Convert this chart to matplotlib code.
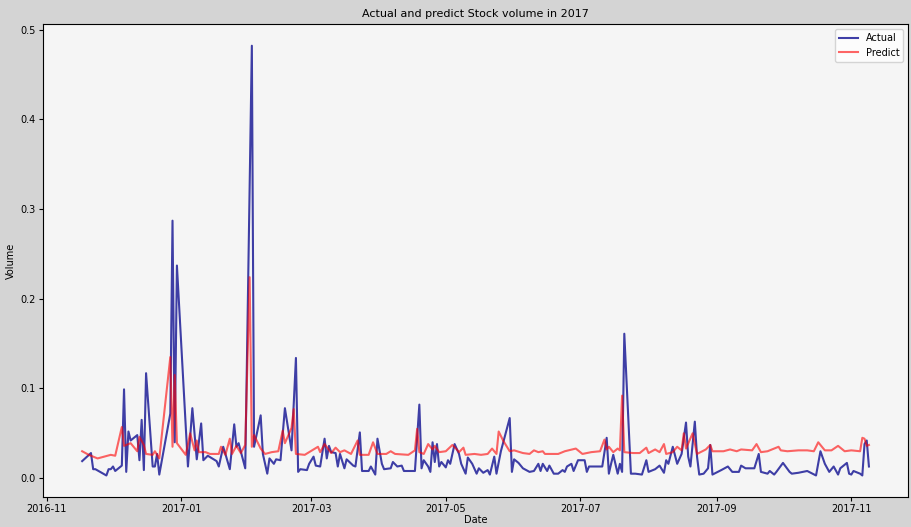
import matplotlib
matplotlib.use("Agg")
import matplotlib.pyplot as plt
import matplotlib.dates as mdates
import pandas as pd

# values (vertices of each line)
actual_dates = [
    "2016-11-17", "2016-11-21", "2016-11-22", "2016-11-23", "2016-11-28", "2016-11-29", "2016-11-30",
    "2016-12-01", "2016-12-02", "2016-12-05", "2016-12-06", "2016-12-07", "2016-12-08", "2016-12-09",
    "2016-12-12", "2016-12-13", "2016-12-14", "2016-12-15", "2016-12-16", "2016-12-19", "2016-12-20",
    "2016-12-21", "2016-12-22", "2016-12-27", "2016-12-28", "2016-12-29", "2016-12-30",
    "2017-01-04", "2017-01-06", "2017-01-08", "2017-01-10", "2017-01-11", "2017-01-13", "2017-01-17",
    "2017-01-18", "2017-01-20", "2017-01-21", "2017-01-23", "2017-01-25", "2017-01-26", "2017-01-27",
    "2017-01-30", "2017-02-02", "2017-02-03", "2017-02-06", "2017-02-07", "2017-02-09", "2017-02-10",
    "2017-02-12", "2017-02-13", "2017-02-15", "2017-02-17", "2017-02-20", "2017-02-22", "2017-02-23",
    "2017-02-24", "2017-02-27", "2017-02-28", "2017-03-02", "2017-03-03", "2017-03-05", "2017-03-07",
    "2017-03-08", "2017-03-09", "2017-03-10", "2017-03-12", "2017-03-13", "2017-03-14", "2017-03-16",
    "2017-03-17", "2017-03-20", "2017-03-21", "2017-03-23", "2017-03-24", "2017-03-27", "2017-03-28",
    "2017-03-30", "2017-03-31", "2017-04-02", "2017-04-03", "2017-04-06", "2017-04-07", "2017-04-09",
    "2017-04-11", "2017-04-12", "2017-04-17", "2017-04-19", "2017-04-20", "2017-04-21", "2017-04-23",
    "2017-04-24", "2017-04-25", "2017-04-26", "2017-04-27", "2017-04-28", "2017-04-29", "2017-05-01",
    "2017-05-02", "2017-05-03", "2017-05-05", "2017-05-07", "2017-05-08", "2017-05-10", "2017-05-11",
    "2017-05-13", "2017-05-15", "2017-05-16", "2017-05-18", "2017-05-20", "2017-05-21", "2017-05-23",
    "2017-05-24", "2017-05-26", "2017-05-30", "2017-05-31", "2017-06-01", "2017-06-03", "2017-06-05",
    "2017-06-08", "2017-06-10", "2017-06-12", "2017-06-13", "2017-06-14", "2017-06-16", "2017-06-17",
    "2017-06-19", "2017-06-21", "2017-06-23", "2017-06-24", "2017-06-25", "2017-06-27", "2017-06-28",
    "2017-06-30", "2017-07-03", "2017-07-04", "2017-07-05", "2017-07-10", "2017-07-11", "2017-07-13",
    "2017-07-14", "2017-07-15", "2017-07-16", "2017-07-18", "2017-07-19", "2017-07-20", "2017-07-21",
    "2017-07-24", "2017-07-26", "2017-07-29", "2017-07-31", "2017-08-01", "2017-08-04", "2017-08-06",
    "2017-08-08", "2017-08-09", "2017-08-10", "2017-08-12", "2017-08-14", "2017-08-16", "2017-08-18",
    "2017-08-19", "2017-08-20", "2017-08-22", "2017-08-23", "2017-08-24", "2017-08-26", "2017-08-28",
    "2017-08-29", "2017-08-30", "2017-09-03", "2017-09-06", "2017-09-08", "2017-09-11", "2017-09-12",
    "2017-09-14", "2017-09-18", "2017-09-20", "2017-09-21", "2017-09-24", "2017-09-25", "2017-09-27",
    "2017-09-28", "2017-10-01", "2017-10-04", "2017-10-05", "2017-10-08", "2017-10-12", "2017-10-16",
    "2017-10-18", "2017-10-20", "2017-10-22", "2017-10-24", "2017-10-26", "2017-10-27", "2017-10-30",
    "2017-10-31", "2017-11-01", "2017-11-02", "2017-11-05", "2017-11-06", "2017-11-07", "2017-11-08",
    "2017-11-09",
]
actual_vals = [
    0.019, 0.028, 0.010, 0.010, 0.003, 0.010, 0.010,
    0.013, 0.008, 0.014, 0.099, 0.007, 0.052, 0.042,
    0.048, 0.020, 0.065, 0.009, 0.117, 0.013, 0.013,
    0.027, 0.004, 0.072, 0.287, 0.040, 0.237,
    0.013, 0.078, 0.021, 0.061, 0.020, 0.025, 0.019,
    0.013, 0.035, 0.027, 0.010, 0.060, 0.035, 0.039,
    0.011, 0.482, 0.035, 0.070, 0.027, 0.005, 0.022,
    0.016, 0.021, 0.020, 0.078, 0.031, 0.134, 0.007,
    0.010, 0.009, 0.016, 0.024, 0.014, 0.013, 0.044,
    0.022, 0.036, 0.029, 0.028, 0.013, 0.027, 0.011,
    0.021, 0.014, 0.013, 0.051, 0.008, 0.008, 0.013,
    0.004, 0.044, 0.016, 0.010, 0.011, 0.018, 0.013,
    0.014, 0.008, 0.008, 0.082, 0.011, 0.020, 0.013,
    0.007, 0.040, 0.018, 0.038, 0.013, 0.018, 0.012,
    0.020, 0.016, 0.038, 0.027, 0.016, 0.005, 0.023,
    0.016, 0.005, 0.011, 0.006, 0.009, 0.004, 0.024,
    0.005, 0.030, 0.067, 0.007, 0.021, 0.017, 0.011,
    0.007, 0.008, 0.016, 0.008, 0.016, 0.008, 0.014,
    0.005, 0.005, 0.009, 0.007, 0.013, 0.016, 0.008,
    0.020, 0.020, 0.007, 0.013, 0.013, 0.013, 0.045,
    0.005, 0.016, 0.026, 0.005, 0.016, 0.007, 0.161,
    0.005, 0.005, 0.004, 0.020, 0.007, 0.010, 0.014,
    0.006, 0.020, 0.016, 0.035, 0.016, 0.027, 0.062,
    0.024, 0.013, 0.063, 0.024, 0.004, 0.005, 0.011,
    0.037, 0.004, 0.009, 0.013, 0.007, 0.007, 0.014,
    0.011, 0.011, 0.027, 0.007, 0.005, 0.008, 0.004,
    0.007, 0.017, 0.007, 0.005, 0.006, 0.008, 0.003,
    0.030, 0.016, 0.007, 0.013, 0.004, 0.011, 0.017,
    0.005, 0.004, 0.008, 0.005, 0.003, 0.038, 0.042,
    0.013,
]

predict_dates = [
    "2016-11-17", "2016-11-20", "2016-11-24", "2016-11-27", "2016-11-30", "2016-12-02", "2016-12-05",
    "2016-12-06", "2016-12-09", "2016-12-12", "2016-12-13", "2016-12-15", "2016-12-16", "2016-12-19",
    "2016-12-20", "2016-12-22", "2016-12-27", "2016-12-28", "2016-12-29", "2016-12-30",
    "2017-01-03", "2017-01-05", "2017-01-07", "2017-01-08", "2017-01-09", "2017-01-12", "2017-01-14",
    "2017-01-18", "2017-01-19", "2017-01-21", "2017-01-23", "2017-01-24", "2017-01-26", "2017-01-28",
    "2017-01-30", "2017-02-01", "2017-02-02", "2017-02-03", "2017-02-06", "2017-02-08", "2017-02-11",
    "2017-02-14", "2017-02-16", "2017-02-17", "2017-02-20", "2017-02-21", "2017-02-22", "2017-02-26",
    "2017-02-28", "2017-03-04", "2017-03-05", "2017-03-07", "2017-03-10", "2017-03-12", "2017-03-14",
    "2017-03-16", "2017-03-19", "2017-03-22", "2017-03-23", "2017-03-27", "2017-03-29", "2017-03-31",
    "2017-04-04", "2017-04-06", "2017-04-08", "2017-04-14", "2017-04-17", "2017-04-18", "2017-04-19",
    "2017-04-21", "2017-04-23", "2017-04-25", "2017-04-26", "2017-04-28", "2017-05-01", "2017-05-04",
    "2017-05-06", "2017-05-07", "2017-05-09", "2017-05-10", "2017-05-14", "2017-05-17", "2017-05-20",
    "2017-05-22", "2017-05-24", "2017-05-25", "2017-05-27", "2017-05-30", "2017-06-01", "2017-06-05",
    "2017-06-08", "2017-06-10", "2017-06-12", "2017-06-14", "2017-06-15", "2017-06-21", "2017-06-24",
    "2017-06-29", "2017-07-02", "2017-07-06", "2017-07-10", "2017-07-12", "2017-07-13", "2017-07-14",
    "2017-07-16", "2017-07-18", "2017-07-19", "2017-07-20", "2017-07-21", "2017-07-25", "2017-07-28",
    "2017-07-31", "2017-08-01", "2017-08-04", "2017-08-06", "2017-08-08", "2017-08-09", "2017-08-12",
    "2017-08-14", "2017-08-16", "2017-08-17", "2017-08-18", "2017-08-21", "2017-08-23", "2017-08-27",
    "2017-08-29", "2017-08-30", "2017-09-04", "2017-09-07", "2017-09-10", "2017-09-12", "2017-09-17",
    "2017-09-19", "2017-09-21", "2017-09-24", "2017-09-29", "2017-09-30", "2017-10-03", "2017-10-08",
    "2017-10-12", "2017-10-15", "2017-10-17", "2017-10-20", "2017-10-23", "2017-10-26", "2017-10-29",
    "2017-11-01", "2017-11-05", "2017-11-06", "2017-11-07", "2017-11-08", "2017-11-09",
]
predict_vals = [
    0.030, 0.026, 0.022, 0.024, 0.026, 0.025, 0.057,
    0.036, 0.039, 0.030, 0.046, 0.037, 0.027, 0.026,
    0.030, 0.022, 0.135, 0.035, 0.115, 0.039,
    0.026, 0.050, 0.031, 0.042, 0.029, 0.029, 0.027,
    0.027, 0.035, 0.026, 0.044, 0.027, 0.036, 0.028,
    0.037, 0.224, 0.035, 0.048, 0.033, 0.027, 0.029,
    0.030, 0.053, 0.039, 0.056, 0.077, 0.027, 0.026,
    0.029, 0.035, 0.029, 0.038, 0.028, 0.034, 0.029,
    0.031, 0.027, 0.042, 0.026, 0.026, 0.040, 0.027,
    0.027, 0.030, 0.027, 0.026, 0.031, 0.055, 0.029,
    0.027, 0.038, 0.032, 0.036, 0.029, 0.030, 0.037,
    0.032, 0.029, 0.034, 0.026, 0.027, 0.026, 0.027,
    0.033, 0.027, 0.052, 0.042, 0.030, 0.031, 0.028,
    0.027, 0.031, 0.029, 0.030, 0.027, 0.027, 0.030,
    0.033, 0.027, 0.029, 0.030, 0.043, 0.032, 0.035,
    0.029, 0.033, 0.031, 0.092, 0.029, 0.028, 0.028,
    0.034, 0.028, 0.032, 0.029, 0.038, 0.027, 0.029,
    0.035, 0.031, 0.050, 0.033, 0.050, 0.027, 0.032,
    0.037, 0.030, 0.030, 0.032, 0.030, 0.032, 0.031,
    0.038, 0.029, 0.030, 0.035, 0.031, 0.030, 0.031,
    0.031, 0.030, 0.040, 0.031, 0.031, 0.036, 0.030,
    0.031, 0.030, 0.045, 0.044, 0.036, 0.037,
]

act_x = pd.to_datetime(actual_dates)
pred_x = pd.to_datetime(predict_dates)

fig = plt.figure(figsize=(9.11, 5.27), dpi=100, facecolor="#d4d4d4")
ax = fig.add_axes([0.047, 0.057, 0.950, 0.897])
ax.set_facecolor("#f5f5f5")

ax.plot(act_x, actual_vals, color="darkblue", alpha=0.75, linewidth=1.5, label="Actual")
ax.plot(pred_x, predict_vals, color="red", alpha=0.6, linewidth=1.5, label="Predict")

ax.xaxis.set_major_locator(mdates.MonthLocator(bymonth=[1, 3, 5, 7, 9, 11]))
ax.xaxis.set_major_formatter(mdates.DateFormatter("%Y-%m"))
ax.set_yticks([0.0, 0.1, 0.2, 0.3, 0.4, 0.5])
ax.tick_params(labelsize=7, pad=2, length=3)

ax.set_title("Actual and predict Stock volume in 2017", fontsize=8, pad=5)
ax.set_xlabel("Date", fontsize=7, labelpad=1)
ax.set_ylabel("Volume", fontsize=7, labelpad=3)
ax.legend(loc="upper right", fontsize=7)

fig.savefig("out.png", dpi=100, facecolor=fig.get_facecolor())
